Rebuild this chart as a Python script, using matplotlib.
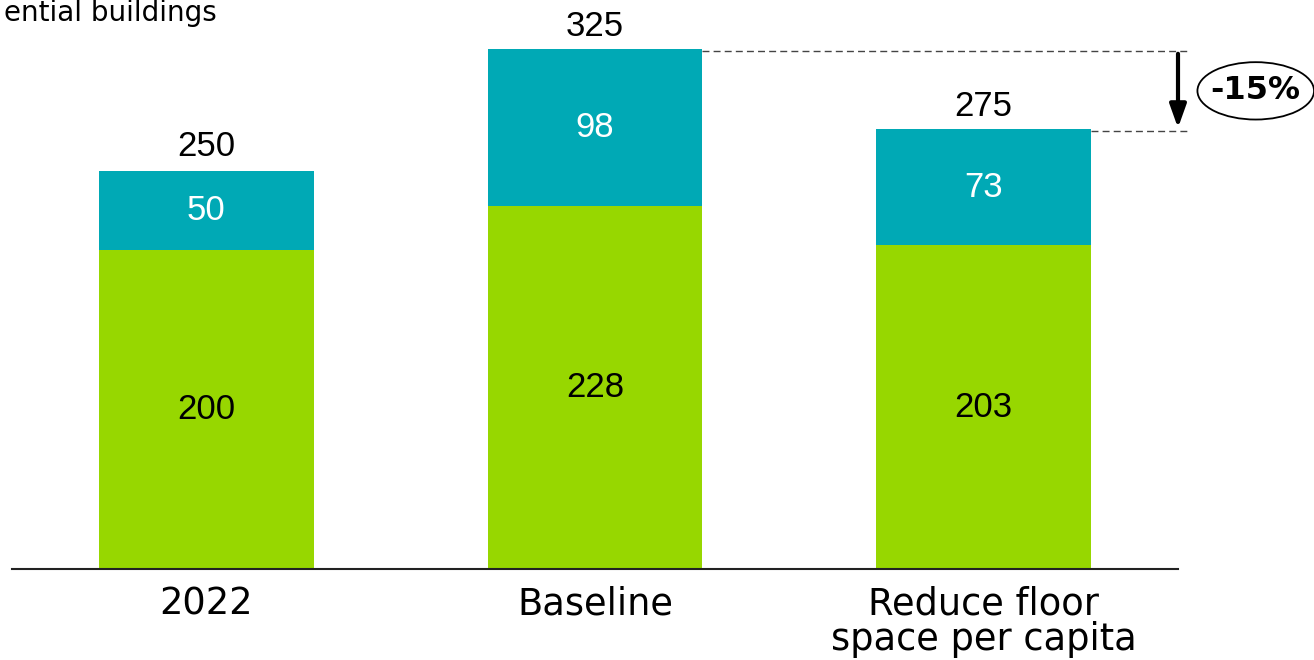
import matplotlib.pyplot as plt
from matplotlib.patches import Ellipse

# Дані
categories = ['2022', 'Baseline', 'Reduce floor\nspace per capita']
green_vals = [200, 228, 203]
teal_vals = [50, 98, 73]
totals = [250, 325, 275]
change_label = '-15%'

green = '#97D700'
teal = '#00A9B5'
num_font = 'Liberation Sans'
txt_font = 'DejaVu Sans'

fig = plt.figure(figsize=(13.14, 6.6), dpi=100)
ax = fig.add_axes([12 / 1314, 91 / 660, 1166 / 1314, 569 / 660])

x = list(range(len(categories)))
w = 0.553
ax.bar(x, green_vals, width=w, color=green)
ax.bar(x, teal_vals, width=w, bottom=green_vals, color=teal)

for i in x:
    ax.text(i, green_vals[i] / 2, str(green_vals[i]), ha='center', va='center',
            fontsize=25, color='black', family=num_font)
    ax.text(i, green_vals[i] + teal_vals[i] / 2, str(teal_vals[i]), ha='center', va='center',
            fontsize=25, color='white', family=num_font)
    ax.text(i, totals[i] + 5, str(totals[i]), ha='center', va='bottom',
            fontsize=25, color='black', family=num_font)

ax.set_xlim(-0.5, 2.5)
ax.set_ylim(0, 357)
ax.set_xticks(x)
ax.set_xticklabels(categories, fontsize=26.5, family=txt_font, linespacing=0.95)
ax.tick_params(axis='x', length=0, pad=12)
ax.set_yticks([])
for s in ['top', 'right', 'left']:
    ax.spines[s].set_visible(False)
ax.spines['bottom'].set_color('#222222')
ax.spines['bottom'].set_linewidth(1.5)

# Пунктирні лінії та стрілка
ax.plot([1 + w / 2, 2.526], [totals[1], totals[1]], ls=(0, (5, 3)), color='#444444', lw=1, clip_on=False)
ax.plot([2 + w / 2, 2.526], [totals[2], totals[2]], ls=(0, (5, 3)), color='#444444', lw=1, clip_on=False)
ax.annotate('', xy=(2.5, totals[2]), xytext=(2.5, totals[1]),
            arrowprops=dict(arrowstyle='-|>,head_width=0.5,head_length=1.4', color='black', lw=3),
            annotation_clip=False)
ell = Ellipse((2.70, 300), 0.30, 36, facecolor='white', edgecolor='black', lw=1.3, clip_on=False)
ax.add_patch(ell)
ax.text(2.70, 300, change_label, ha='center', va='center', fontsize=23, fontweight='bold',
        family=txt_font, clip_on=False)

fig.text(0.003, 0.968, 'ential buildings', ha='left', va='baseline', fontsize=20, family=txt_font)

fig.savefig('out.png', dpi=100)
